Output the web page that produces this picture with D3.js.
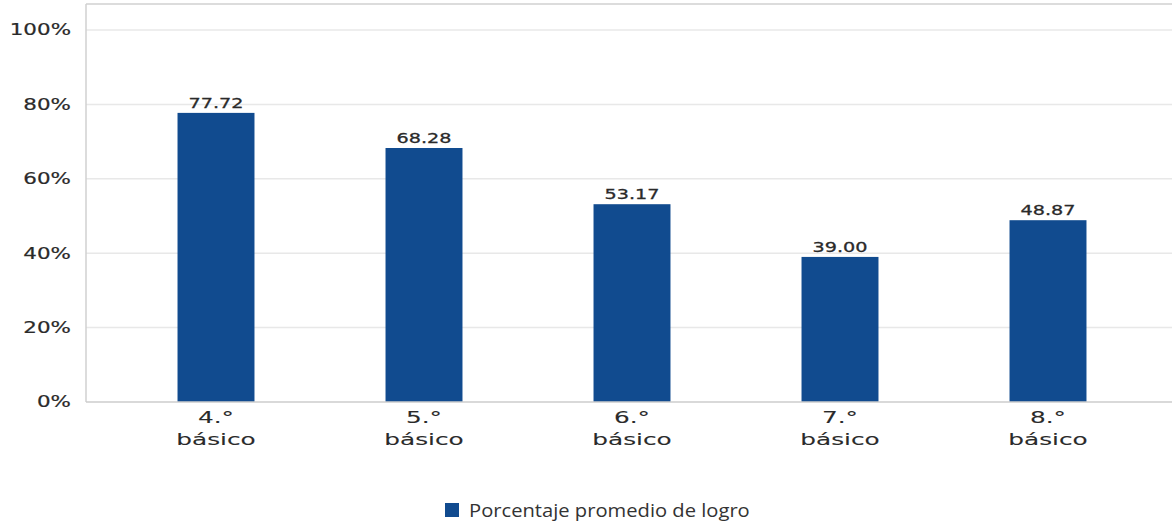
<!DOCTYPE html>
<html><head><meta charset="utf-8">
<script src="https://cdn.jsdelivr.net/npm/d3@7"></script>
<style>body{margin:0;background:#fff}svg{display:block}</style>
</head><body>
<script>
const categories = ["4.° básico","5.° básico","6.° básico","7.° básico","8.° básico"];
const values = [77.72, 68.28, 53.17, 39.00, 48.87];
const yTicks = [0, 20, 40, 60, 80, 100];
const seriesName = "Porcentaje promedio de logro";

(function(){
const W = 1172, H = 527;
const svg = d3.select("body").append("svg").attr("width", W).attr("height", H);
const pLeft = 86, pRight = 1172, pBottom = 402, pTop = 4;
const y = d3.scaleLinear().domain([0, 100]).range([pBottom, 30]);
const x = d3.scaleBand().domain(categories).range([112, 1152]).paddingInner(0.63).paddingOuter(0.315);
const color = "#114b8f";
const txt = "#2a2a2a";

// gridlines
svg.append("g").selectAll("line").data(yTicks.filter(d => d > 0)).join("line")
  .attr("x1", pLeft).attr("x2", pRight).attr("y1", d => y(d)).attr("y2", d => y(d))
  .attr("stroke", "#e8e8e8").attr("stroke-width", 1.5);
// frame
svg.append("line").attr("x1", pLeft).attr("x2", pRight).attr("y1", pTop).attr("y2", pTop).attr("stroke", "#d0d0d0").attr("stroke-width", 1.5);
svg.append("line").attr("x1", pLeft).attr("x2", pLeft).attr("y1", pTop).attr("y2", pBottom).attr("stroke", "#d0d0d0").attr("stroke-width", 1.5);

// y axis
const yAxis = d3.axisLeft(y).tickValues(yTicks).tickFormat(d => d + "%").tickSize(0).tickPadding(15);
const gy = svg.append("g").attr("transform", `translate(${pLeft},0)`).call(yAxis);
gy.select(".domain").remove();
gy.selectAll("text").attr("font-family", "DejaVu Sans").attr("font-size", 15).attr("fill", txt)
  .attr("stroke", txt).attr("stroke-width", 0.2)
  .attr("x", 0).attr("transform", "translate(-15,0) scale(1.43,1)");

// bars
svg.append("g").selectAll("rect").data(values).join("rect")
  .attr("x", (d, i) => x(categories[i])).attr("width", x.bandwidth())
  .attr("y", d => y(d)).attr("height", d => pBottom - y(d)).attr("fill", color);

// value labels
svg.append("g").selectAll("text").data(values).join("text")
  .attr("transform", (d, i) => `translate(${x(categories[i]) + x.bandwidth() / 2},${y(d) - 5}) scale(1.37,1)`)
  .attr("text-anchor", "middle").attr("font-family", "DejaVu Sans").attr("font-size", 14)
  .attr("fill", txt).attr("stroke", txt).attr("stroke-width", 0.3).text(d => d.toFixed(2));

// x axis
const xAxis = d3.axisBottom(x).tickSize(0).tickFormat("");
const gx = svg.append("g").attr("transform", `translate(0,${pBottom})`).call(xAxis);
gx.select(".domain").attr("d", `M${pLeft},0H${pRight}`).attr("stroke", "#ccc").attr("stroke-width", 1.5);
const lab = svg.append("g").selectAll("g").data(categories).join("g")
  .attr("transform", d => `translate(${x(d) + x.bandwidth() / 2},0)`);
lab.each(function(d) {
  const parts = d.split(" ");
  const g = d3.select(this);
  [[parts[0], 423], [parts[1], 445]].forEach(([t, yy]) => {
    g.append("text").attr("transform", `translate(0,${yy}) scale(1.5,1)`)
      .attr("text-anchor", "middle").attr("font-family", "DejaVu Sans").attr("font-size", 16.5)
      .attr("fill", txt).attr("stroke", txt).attr("stroke-width", 0.1).text(t);
  });
});

// legend
svg.append("rect").attr("x", 445).attr("y", 503).attr("width", 14).attr("height", 14).attr("fill", color);
svg.append("text").attr("transform", "translate(469,517) scale(1.12,1)").attr("font-family", "Open Sans").attr("font-size", 18)
  .attr("fill", "#333").text(seriesName);
})();
</script>
</body></html>
